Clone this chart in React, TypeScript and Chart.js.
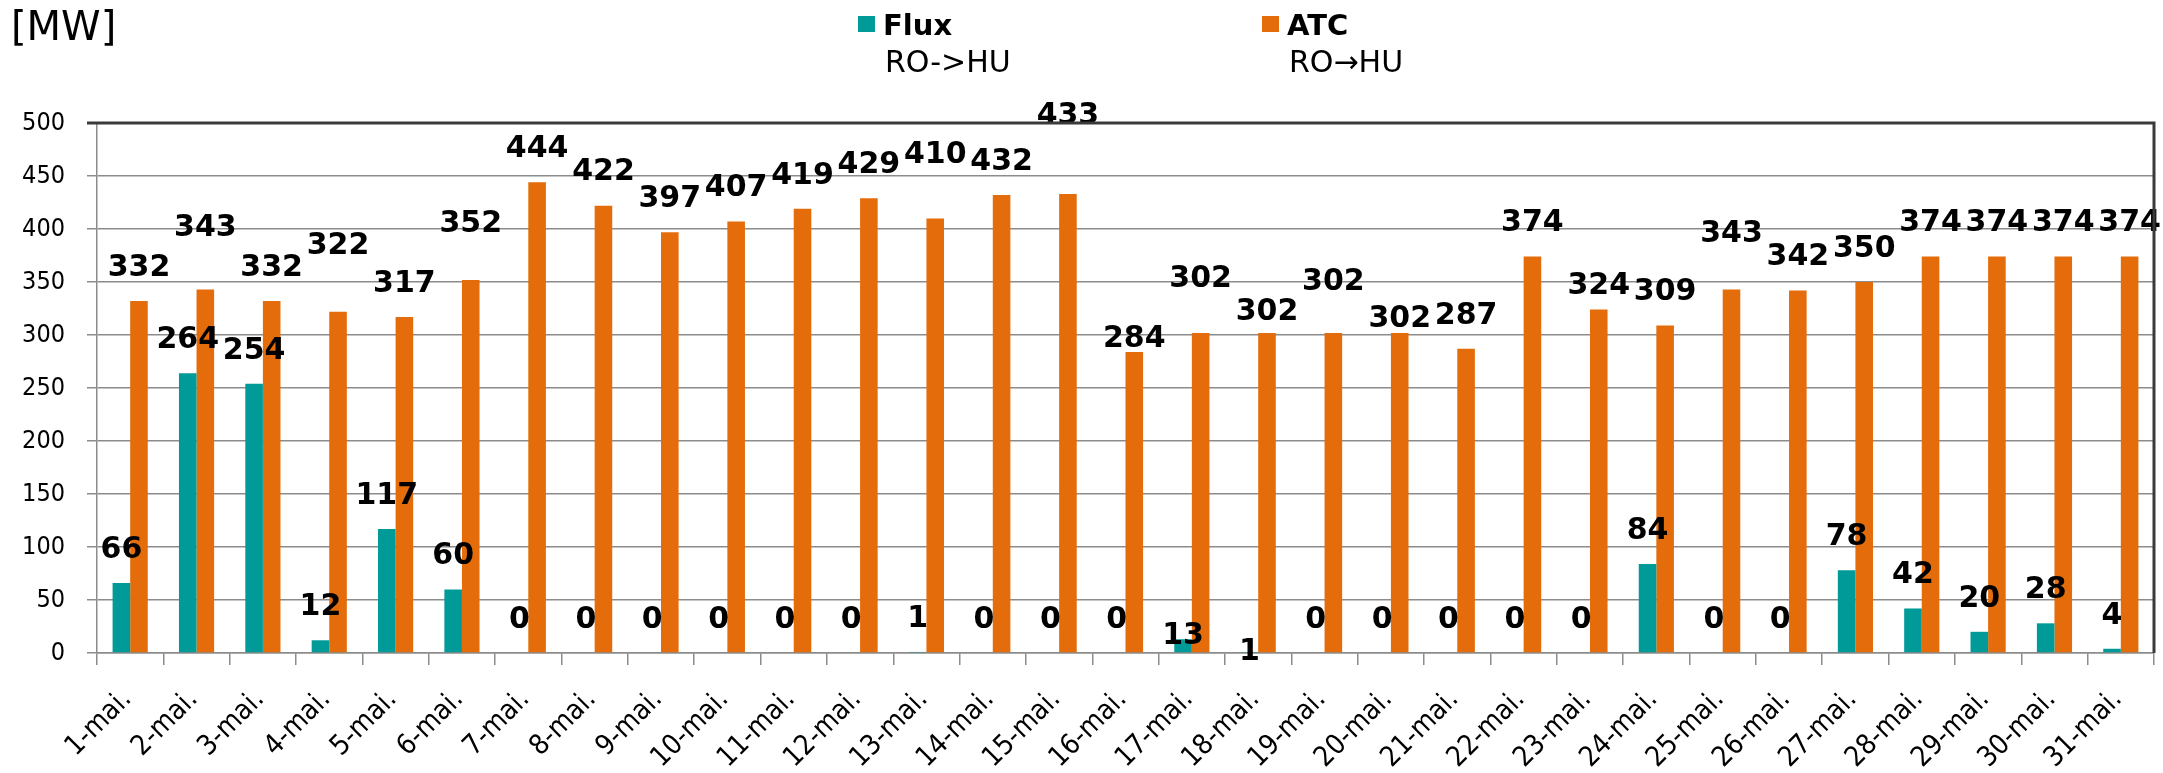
import React, { useEffect, useRef } from "react";
import { Chart, registerables } from "chart.js";

Chart.register(...registerables);

const categories = [
  "1-mai.", "2-mai.", "3-mai.", "4-mai.", "5-mai.", "6-mai.", "7-mai.", "8-mai.",
  "9-mai.", "10-mai.", "11-mai.", "12-mai.", "13-mai.", "14-mai.", "15-mai.", "16-mai.",
  "17-mai.", "18-mai.", "19-mai.", "20-mai.", "21-mai.", "22-mai.", "23-mai.", "24-mai.",
  "25-mai.", "26-mai.", "27-mai.", "28-mai.", "29-mai.", "30-mai.", "31-mai.",
];

const fluxValues = [
  66, 264, 254, 12, 117, 60, 0, 0, 0, 0, 0, 0, 1, 0, 0, 0,
  13, 1, 0, 0, 0, 0, 0, 84, 0, 0, 78, 42, 20, 28, 4,
];

const atcValues = [
  332, 343, 332, 322, 317, 352, 444, 422, 397, 407, 419, 429, 410, 432, 433, 284,
  302, 302, 302, 302, 287, 374, 324, 309, 343, 342, 350, 374, 374, 374, 374,
];

const yTickValues = [0, 50, 100, 150, 200, 250, 300, 350, 400, 450, 500];

// Vertical lift (px) of each value label above its bar top, as placed in the original
const fluxLabelLift = [
  33, 33, 33, 33, 33, 33, 33, 33, 33, 33, 33, 33, 33, 33, 33, 33,
  3, 0, 33, 33, 33, 33, 33, 33, 33, 33, 33, 33, 33, 33, 33,
];
const atcLabelLift = [
  33, 61, 33, 65, 33, 56, 33, 33, 33, 33, 33, 33, 63, 33, 78, 13,
  54, 21, 51, 14, 33, 33, 23, 33, 55, 33, 33, 33, 33, 33, 33,
];

const fluxName = ["Flux", "RO->HU"];
const atcName = ["ATC", "RO\u2192HU"];
const unitLabel = "[MW]";

const TEAL = "#009A98";
const ORANGE = "#E46C0A";
const AXIS_FONT = '"DejaVu Sans Condensed", "DejaVu Sans", sans-serif';
const LABEL_FONT = '"DejaVu Sans", Verdana, sans-serif';

const W = 2163;
const H = 773;

export default function App() {
  const canvasRef = useRef<HTMLCanvasElement | null>(null);

  useEffect(() => {
    const canvas = canvasRef.current;
    if (!canvas) return;

    const framePlugin = {
      id: "frame",
      afterDraw(chart: any) {
        const { ctx, chartArea } = chart;
        ctx.save();
        ctx.strokeStyle = "#3a3a3a";
        ctx.lineWidth = 3;
        ctx.beginPath();
        ctx.moveTo(chartArea.left - 10, chartArea.top);
        ctx.lineTo(chartArea.right, chartArea.top);
        ctx.lineTo(chartArea.right, chartArea.bottom);
        ctx.stroke();
        ctx.restore();
      },
    };

    const xLabelPlugin = {
      id: "xLabels",
      afterDraw(chart: any) {
        const ctx = chart.ctx;
        const xs = chart.scales.x;
        ctx.save();
        ctx.fillStyle = "#000";
        ctx.font = `28px ${AXIS_FONT}`;
        ctx.textAlign = "right";
        ctx.textBaseline = "middle";
        categories.forEach((lab, i) => {
          const x = xs.getPixelForTick(i);
          ctx.save();
          ctx.translate(x - 3, xs.top + 42);
          ctx.rotate(-Math.PI / 4);
          ctx.fillText(lab, 0, 0);
          ctx.restore();
        });
        ctx.restore();
      },
    };

    const valueLabelPlugin = {
      id: "valueLabels",
      afterDatasetsDraw(chart: any) {
        const ctx = chart.ctx;
        ctx.save();
        ctx.fillStyle = "#000";
        ctx.font = `bold 30px ${LABEL_FONT}`;
        ctx.textAlign = "center";
        ctx.textBaseline = "middle";
        const lifts = [fluxLabelLift, atcLabelLift];
        chart.data.datasets.forEach((ds: any, di: number) => {
          const meta = chart.getDatasetMeta(di);
          meta.data.forEach((el: any, i: number) => {
            const v = ds.data[i];
            ctx.fillText(String(v), el.x, el.y - lifts[di][i]);
          });
        });
        ctx.restore();
      },
    };

    const headerPlugin = {
      id: "header",
      afterDraw(chart: any) {
        const ctx = chart.ctx;
        ctx.save();
        ctx.fillStyle = "#000";
        ctx.textAlign = "left";
        ctx.textBaseline = "alphabetic";
        ctx.font = `40px ${LABEL_FONT}`;
        ctx.fillText(unitLabel, 11, 40);

        const drawEntry = (x: number, color: string, lines: string[]) => {
          ctx.fillStyle = color;
          ctx.fillRect(x, 16, 17, 16);
          ctx.fillStyle = "#000";
          ctx.font = `bold 29px ${LABEL_FONT}`;
          ctx.fillText(lines[0], x + 25, 35);
          ctx.font = `30px ${LABEL_FONT}`;
          ctx.fillText(lines[1], x + 27, 72);
        };
        drawEntry(858, TEAL, fluxName);
        drawEntry(1262, ORANGE, atcName);
        ctx.restore();
      },
    };

    const chart = new Chart(canvas, {
      type: "bar",
      data: {
        labels: categories,
        datasets: [
          {
            label: fluxName.join(" "),
            data: fluxValues,
            backgroundColor: TEAL,
            categoryPercentage: 0.53,
            barPercentage: 1,
          },
          {
            label: atcName.join(" "),
            data: atcValues,
            backgroundColor: ORANGE,
            categoryPercentage: 0.53,
            barPercentage: 1,
          },
        ],
      },
      options: {
        responsive: false,
        animation: false,
        devicePixelRatio: 1,
        layout: { padding: { top: 123, right: 9, left: 0, bottom: 0 } },
        plugins: {
          legend: { display: false },
          tooltip: { enabled: false },
          title: { display: false },
        },
        scales: {
          x: {
            afterFit(scale: any) {
              scale.height = H - 653;
            },
            grid: {
              offset: true,
              drawOnChartArea: false,
              drawTicks: true,
              tickLength: 12,
              color: "#8c8c8c",
              lineWidth: 1.5,
            },
            border: { color: "#8c8c8c", width: 1.5 },
            ticks: {
              display: false,
              autoSkip: false,
            },
          },
          y: {
            min: 0,
            max: 500,
            afterFit(scale: any) {
              scale.width = 97;
            },
            afterBuildTicks(scale: any) {
              scale.ticks = yTickValues.map((v) => ({ value: v }));
            },
            grid: {
              color: "#8c8c8c",
              lineWidth: 1.5,
              drawTicks: true,
              tickLength: 10,
            },
            border: { color: "#8c8c8c", width: 1.5 },
            ticks: {
              padding: 22,
              color: "#000",
              font: { family: AXIS_FONT, size: 25 },
            },
          },
        },
      },
      plugins: [valueLabelPlugin, framePlugin, xLabelPlugin, headerPlugin],
    } as any);

    return () => chart.destroy();
  }, []);

  return (
    <div style={{ position: "absolute", left: 0, top: 0, width: W, height: H, background: "#fff" }}>
      <canvas ref={canvasRef} width={W} height={H} style={{ width: W, height: H, display: "block" }} />
    </div>
  );
}
